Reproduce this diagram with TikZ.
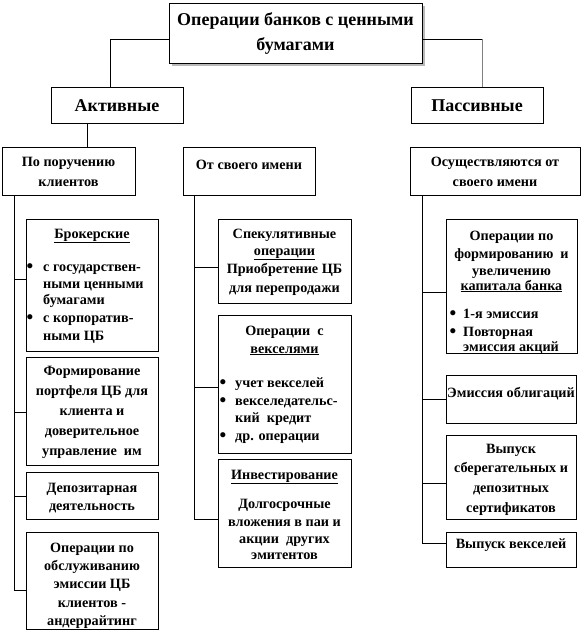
\documentclass[tikz,border=0pt]{standalone}
\usepackage{fontspec}
\setmainfont{Liberation Serif}
\newcounter{tcount}
\tikzset{
  box/.style={draw, line width=0.8pt, fill=white, inner sep=0pt, outer sep=0pt},
  conn/.style={draw, line width=0.8pt},
  txt/.style={inner sep=0pt, anchor=base, font=\bfseries\fontsize{14.2}{17}\selectfont},
  txtl/.style={txt, anchor=base west},
  bul/.style={txt, font=\bfseries\fontsize{19}{17}\selectfont},
  big/.style={txt, font=\bfseries\fontsize{18}{21}\selectfont},
}
% text line: [style]{x}{y}{text}
\newcommand\txtline[4][]{\stepcounter{tcount}\edef\tnm{t\arabic{tcount}}\node[txt,#1] (\tnm) at (#2,#3) {#4};}
% bullet line: {bullet x}{text x}{y}{text}
\newcommand\bulline[4]{\txtline[bul]{#1}{#3+1}{\textbullet}\txtline[txtl]{#2}{#3}{#4}}
% box: name, x1, y1, x2, y2
\newcommand\boxnode[5]{\node[box,anchor=north west,minimum width={#4-#2},minimum height={#5-#3}] (#1) at (#2,#3) {};}
\begin{document}
\begin{tikzpicture}[x=1pt,y=-1pt]
\useasboundingbox (0,0) rectangle (582,642);
% top
\fill[gray!55] (172,6) rectangle (425,66);
\boxnode{top}{169}{3}{422}{63}
\txtline[big]{295.5}{26}{Операции банков с ценными}
\txtline[big]{295.5}{51}{бумагами}
\boxnode{akt}{51}{87}{183}{123}
\txtline[big]{117}{111}{Активные}
\boxnode{pas}{411}{87}{543}{123}
\txtline[big]{477}{111}{Пассивные}
\draw[conn] (top.west |- 0,39) -- (110,39) -- (akt.north -| 110,0);
\draw[conn] (top.east |- 0,39) -- (482,39);
\draw[line width=1pt, gray] (482,39) -- (pas.north -| 482,0);

% second level
\boxnode{a0}{2}{147}{135}{195}
\txtline{68.5}{166}{По поручению}
\txtline{68.5}{186}{клиентов}
\draw[conn] (akt.south -| 87,0) -- (a0.north -| 87,0);
\boxnode{b0}{183}{147}{315}{195}
\txtline{249}{169}{От своего имени}
\boxnode{c0}{410}{147}{580}{195}
\txtline{495}{166}{Осуществляются от}
\txtline{495}{186}{своего имени}

% column A
\boxnode{a1}{26}{219}{158}{351}
\txtline{92}{238}{\underline{Брокерские}}
\bulline{30}{43}{271}{с государствен-}
\txtline[txtl]{43}{288}{ными ценными}
\txtline[txtl]{43}{304}{бумагами}
\bulline{30}{43}{322}{с корпоратив-}
\txtline[txtl]{43}{340}{ными ЦБ}

\boxnode{a2}{26}{357}{158}{465}
\txtline{92}{375}{Формирование}
\txtline{92}{395}{портфеля ЦБ для}
\txtline{92}{415}{клиента и}
\txtline{92}{435}{доверительное}
\txtline{92}{455}{управление\ \ им}

\boxnode{a3}{26}{472}{158}{519}
\txtline{92}{492}{Депозитарная}
\txtline{92}{510}{деятельность}

\boxnode{a4}{26}{532}{158}{629}
\txtline{92}{552}{Операции по}
\txtline{92}{570}{обслуживанию}
\txtline{92}{588}{эмиссии ЦБ}
\txtline{92}{607}{клиентов -}
\txtline{92}{625}{андеррайтинг}

\draw[conn] (a0.south -| 14,0) |- (a1.west |- 0,279);
\draw[conn] (a0.south -| 14,0) |- (a2.west |- 0,412);
\draw[conn] (a0.south -| 14,0) |- (a3.west |- 0,496);
\draw[conn] (a0.south -| 14,0) |- (a4.west |- 0,590);

% column B
\boxnode{b1}{218}{219}{351}{303}
\txtline{284.5}{238}{Спекулятивные}
\txtline{284.5}{255}{\underline{операции}}
\txtline{284.5}{273}{Приобретение ЦБ}
\txtline{284.5}{292}{для перепродажи}

\boxnode{b2}{218}{315}{351}{453}
\txtline{284.5}{335}{Операции\ \ с}
\txtline{284.5}{353}{\underline{векселями}}
\bulline{223}{235}{387}{учет векселей}
\bulline{223}{235}{405}{векселедательс-}
\txtline[txtl]{235}{422}{кий\ \ кредит}
\bulline{223}{235}{440}{др. операции}

\boxnode{b3}{218}{459}{351}{567}
\txtline{284.5}{479}{\underline{Инвестирование}}
\txtline{284.5}{508}{Долгосрочные}
\txtline{284.5}{526}{вложения в паи и}
\txtline{284.5}{543}{акции\ \ других}
\txtline{284.5}{559}{эмитентов}

\draw[conn] (b0.south -| 194,0) |- (b1.west |- 0,267);
\draw[conn] (b0.south -| 194,0) |- (b2.west |- 0,387);
\draw[conn] (b0.south -| 194,0) |- (b3.west |- 0,519);

% column C
\boxnode{c1}{446}{219}{577}{353}
\txtline{511.5}{240}{Операции по}
\txtline{511.5}{258}{формированию\ \ и}
\txtline{511.5}{275}{увеличению}
\txtline{511.5}{290}{\underline{капитала банка}}
\bulline{453}{463}{318}{1-я эмиссия}
\bulline{453}{463}{336}{Повторная}
\txtline[txtl]{463}{351}{эмиссия акций}

\boxnode{c2}{446}{375}{576}{423}
\txtline{511}{397}{Эмиссия облигаций}

\boxnode{c3}{446}{435}{576}{519}
\txtline{511}{453}{Выпуск}
\txtline{511}{472}{сберегательных и}
\txtline{511}{492}{депозитных}
\txtline{511}{512}{сертификатов}

\boxnode{c4}{446}{532}{576}{567}
\txtline{511}{548}{Выпуск векселей}

\draw[conn] (c0.south -| 422,0) |- (c1.west |- 0,292);
\draw[conn] (c0.south -| 422,0) |- (c2.west |- 0,399);
\draw[conn] (c0.south -| 422,0) |- (c3.west |- 0,483);
\draw[conn] (c0.south -| 422,0) |- (c4.west |- 0,543);
\end{tikzpicture}
\end{document}
